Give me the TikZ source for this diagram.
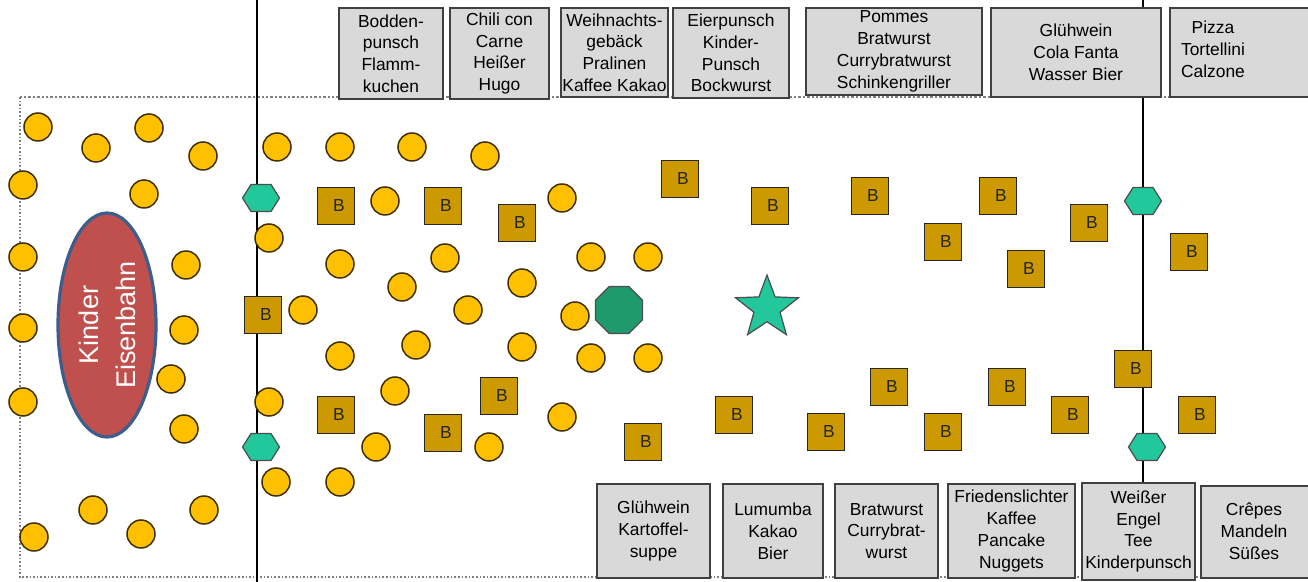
\documentclass[tikz,border=0pt]{standalone}
\usepackage{fontspec}
\setmainfont{Liberation Sans}
\usetikzlibrary{shapes.geometric}
\definecolor{gelb}{HTML}{FFC000}
\definecolor{bude}{HTML}{CC9900}
\definecolor{mint}{HTML}{22C79B}
\definecolor{tanne}{HTML}{1E9A6C}
\definecolor{lok}{HTML}{C0504D}
\definecolor{rand}{HTML}{3B5E8C}
\definecolor{grau}{HTML}{D9D9D9}
\tikzset{
  baum/.style={circle, fill=gelb, draw=black!75!gelb, line width=0.75pt, minimum size=14pt, inner sep=0pt},
  bank/.style={rectangle, fill=bude, draw=black!85, line width=0.7pt, minimum size=18.5pt, inner sep=0pt, font=\fontsize{8.7}{10}\selectfont, text=black!85},
  stand/.style={rectangle, fill=grau, draw=black!75, line width=0.7pt, inner sep=0pt, align=center, font=\fontsize{8.7}{10.9}\selectfont},
  hexa/.pic={
    \filldraw[fill=mint, draw=black!70, line width=0.6pt] (-18.5,0) -- (-10,13.5) -- (10,13.5) -- (18.5,0) -- (10,-13.5) -- (-10,-13.5) -- cycle;
    \coordinate (-c) at (0,0);}
}
\begin{document}
\begin{tikzpicture}[x=0.5pt, y=-0.5pt]
\useasboundingbox (0,0) rectangle (1308,582);
\clip (0,0) rectangle (1308,582);
% Rand und Linien
\draw[densely dotted, gray, line width=1.2pt] (1320,97) -- (20,97);
\draw[densely dotted, gray, line width=0.8pt] (20,97) -- (20,577) -- (1320,577);
\coordinate (l1o) at (257,0);
\coordinate (l1u) at (257,582);
\coordinate (l2o) at (1143,0);
\coordinate (l2u) at (1143,483);
\draw[line width=1pt] (l1o) -- (l1u);
\draw[line width=1pt] (l2o) -- (l2u);
% Buden oben
\node[stand, minimum width=52pt, minimum height=45.5pt] (bo1) at (391,53.5) {Bodden-\\punsch\\Flamm-\\kuchen};
\node[stand, minimum width=49.5pt, minimum height=45.5pt] (bo2) at (499.5,53.5) {Chili con\\Carne\\Heißer\\Hugo};
\node[stand, minimum width=53.5pt, minimum height=44.5pt] (bo3) at (614.5,52.5) {Weihnachts-\\gebäck\\Pralinen\\Kaffee Kakao};
\node[stand, minimum width=58pt, minimum height=45pt] (bo4) at (731,53) {Eierpunsch\\Kinder-\\Punsch\\Bockwurst};
\node[stand, minimum width=88pt, minimum height=43.5pt] (bo5) at (894,51.5) {Pommes\\Bratwurst\\Currybratwurst\\Schinkengriller};
\node[stand, minimum width=85pt, minimum height=44.5pt] (bo6) at (1076,52.5) {Glühwein\\Cola Fanta\\Wasser Bier};
\filldraw[fill=grau, draw=black!75, line width=0.7pt] (1170,8) rectangle (1330,97);
\node[align=center, inner sep=0pt, font=\fontsize{8.7}{10.9}\selectfont] (bo7) at (1213,49) {Pizza\\Tortellini\\Calzone};
% Buden unten
\node[stand, minimum width=56.5pt, minimum height=47pt] (bu1) at (653.5,531) {Glühwein\\Kartoffel-\\suppe};
\node[stand, minimum width=50pt, minimum height=47pt] (bu2) at (773,531) {Lumumba\\Kakao\\Bier};
\node[stand, minimum width=51.5pt, minimum height=47pt] (bu3) at (886.5,531) {Bratwurst\\Currybrat-\\wurst};
\node[stand, minimum width=63.5pt, minimum height=47pt] (bu4) at (1011.5,531) {Friedenslichter\\Kaffee\\Pancake\\Nuggets};
\node[stand, minimum width=56.5pt, minimum height=48.5pt] (bu5) at (1138.5,531.5) {Weißer\\Engel\\Tee\\Kinderpunsch};
\filldraw[fill=grau, draw=black!75, line width=0.7pt] (1201,486) rectangle (1330,578);
\node[align=center, inner sep=0pt, font=\fontsize{8.7}{10.9}\selectfont] (bu6) at (1254,531) {Crêpes\\Mandeln\\Süßes};
% Kinder-Eisenbahn
\node[ellipse, rotate=90, minimum width=112pt, minimum height=49pt, inner sep=0pt, fill=lok, draw=rand, line width=1.6pt, text=white, align=center, font=\fontsize{13.5}{18.5}\selectfont] (bahn) at (107,325) {Kinder\\Eisenbahn};
% Baeume
\foreach \x/\y [count=\i] in {38/127, 96/148, 149/128, 203/156, 23/185, 144/194, 23/257, 186/265, 23/328, 184/330, 171/379, 23/402, 184/429, 93/510, 141/534, 204/510, 34/537,
  277/147, 340/147, 412/147, 485/156, 385/201, 562/198, 269/238, 340/264, 445/258, 591/257, 648/257, 402/287, 522/283, 303/310, 468/310, 575/316,
  340/356, 416/345, 522/347, 591/358, 648/358, 269/402, 395/391, 562/417, 376/447, 489/447, 276/482, 340/482}
  \node[baum] (t\i) at (\x,\y) {};
% Baenke
\foreach \x/\y [count=\i] in {336/206, 443/206, 517/223, 263/315, 680/179, 770/206, 870/196, 943/242, 998/196, 1026/269, 1089/223, 1189/252,
  336/415, 443/433, 499/396, 643/442, 734/415, 826/432, 889/387, 943/432, 1007/387, 1070/415, 1133/369, 1197/415}
  \node[bank] (b\i) at (\x,\y) {\hspace*{3pt}B};
% Eingaenge
\pic (e1) at (261,198) {hexa};
\pic (e2) at (261,447) {hexa};
\pic (e3) at (1143,201) {hexa};
\pic (e4) at (1147,447) {hexa};
\node[regular polygon, regular polygon sides=8, minimum size=25.5pt, inner sep=0pt, fill=tanne, draw=black!70, line width=0.6pt] (pyramide) at (619,310) {};
\node[star, star points=5, star point ratio=2.4, minimum size=33pt, inner sep=0pt, fill=mint, draw=black!70, line width=0.6pt] (stern) at (767,308) {};
\end{tikzpicture}
\end{document}
